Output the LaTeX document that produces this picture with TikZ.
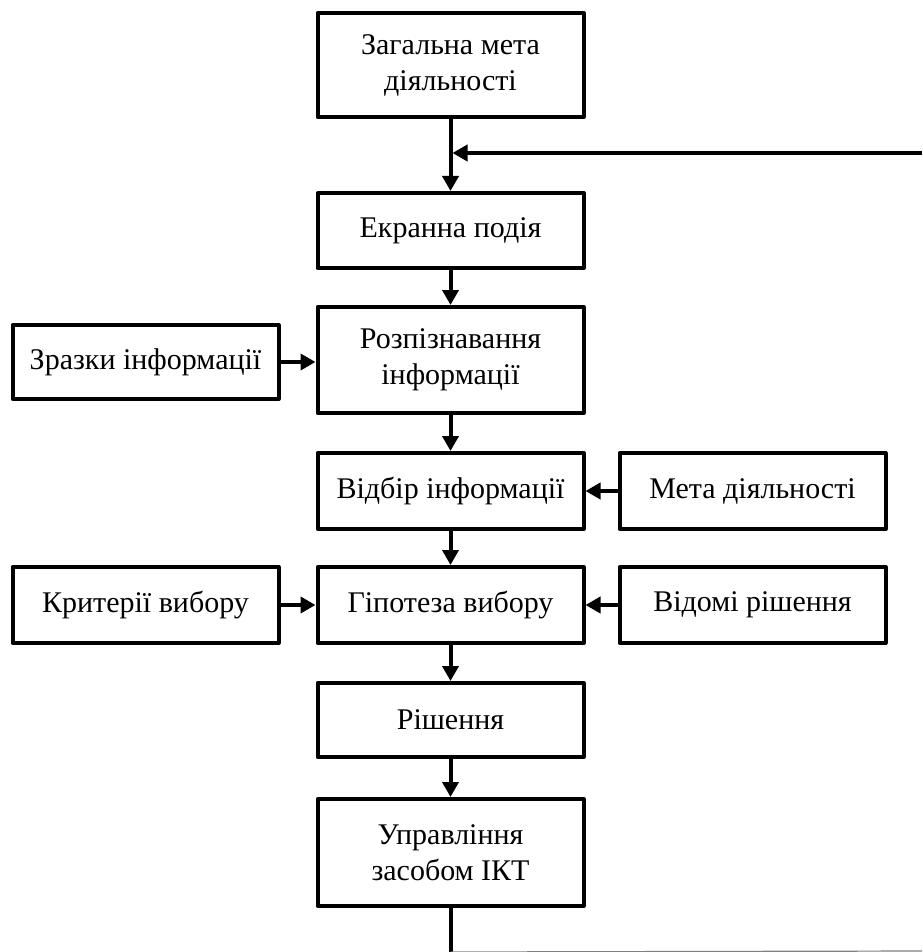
\documentclass[tikz,border=0pt]{standalone}
\usepackage{fontspec}
\setmainfont{Liberation Serif}
\usetikzlibrary{arrows.meta}

\begin{document}
\begin{tikzpicture}[x=1pt,y=-1pt,
  box/.style={draw, line width=4pt, line join=round, minimum width=266pt,
    inner sep=0pt, align=center, font=\fontsize{30}{36}\selectfont},
  arr/.style={line width=4pt, -{Triangle[length=15pt,width=16pt]}},
  link/.style={line width=4pt}]
\useasboundingbox (0,0) rectangle (922,952);

% main column
\node[box, minimum height=104pt] (goal) at (450.5,65) {Загальна мета\\діяльності};
\node[box, minimum height=75pt]  (event) at (450.5,230.5) {Екранна подія};
\node[box, minimum height=106pt] (recog) at (450.5,360) {Розпізнавання\\інформації};
\node[box, minimum height=76pt]  (select) at (450.5,491) {Відбір інформації};
\node[box, minimum height=76pt]  (hyp) at (450.5,605) {Гіпотеза вибору};
\node[box, minimum height=74pt]  (dec) at (450.5,720) {Рішення};
\node[box, minimum height=107pt] (ctrl) at (450.5,852.5) {Управління\\засобом ІКТ};

% side inputs
\node[box, minimum height=74pt] (samples) at (145.5,362) {Зразки інформації};
\node[box, minimum height=76pt] (crit) at (145.5,605) {Критерії вибору};
\node[box, minimum height=76pt] (aim) at (752.5,491) {Мета діяльності};
\node[box, minimum height=76pt] (known) at (752.5,605) {Відомі рішення};

% feedback loop ends
\coordinate (fbin) at (922,153);
\coordinate (fbjoin) at (452.5,153);
\coordinate (fbout) at (450.5,952);
\coordinate (fbend) at (922,951);

% vertical chain
\draw[arr] (goal) -- (event);
\draw[arr] (event) -- (recog);
\draw[arr] (recog) -- (select);
\draw[arr] (select) -- (hyp);
\draw[arr] (hyp) -- (dec);
\draw[arr] (dec) -- (ctrl);

% side arrows
\draw[arr] (samples.east) -- (samples.east -| recog.west);
\draw[arr] (crit.east) -- (crit.east -| hyp.west);
\draw[arr] (aim.west) -- (aim.west -| select.east);
\draw[arr] (known.west) -- (known.west -| hyp.east);

% feedback
\draw[arr] (fbin) -- (fbjoin);
\draw[link] (ctrl.south) -- (fbout);
\draw[line width=1.2pt, gray] (fbout) -- (fbend);
\end{tikzpicture}
\end{document}
